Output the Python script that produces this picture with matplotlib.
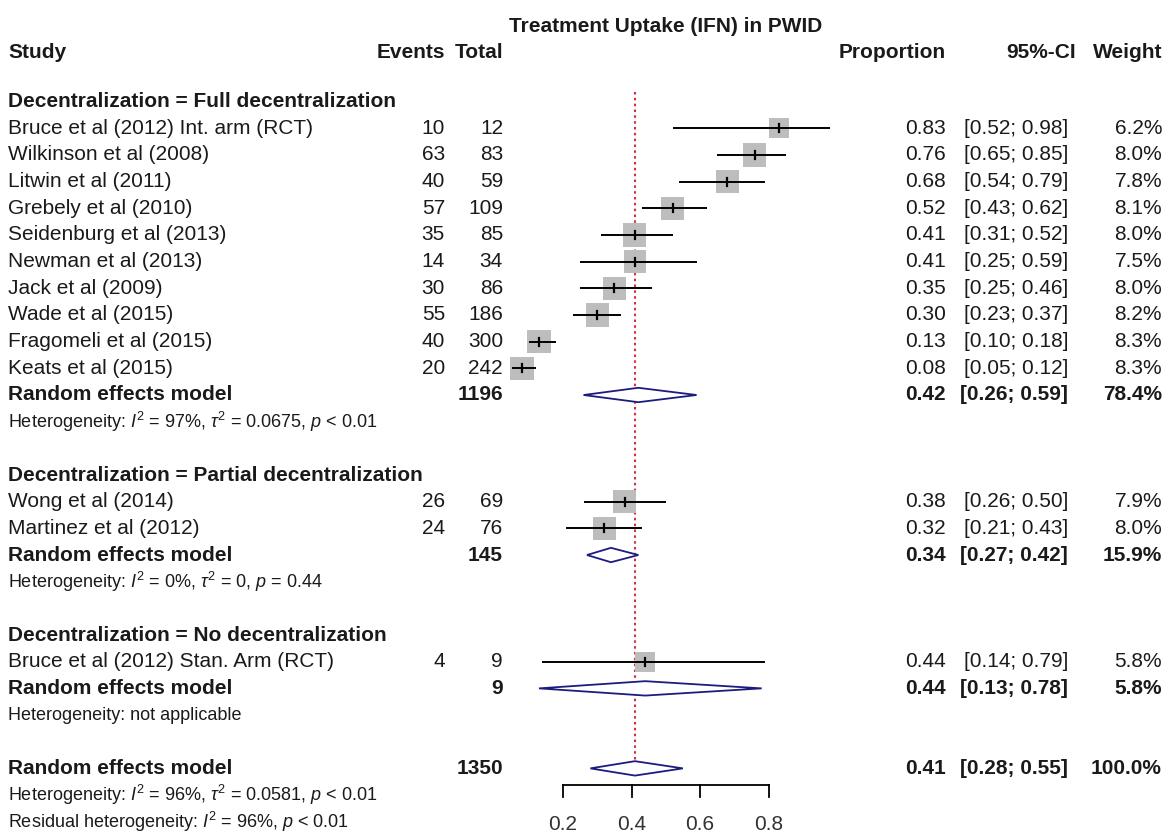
import matplotlib
matplotlib.use("Agg")
import matplotlib.pyplot as plt
import matplotlib.transforms as mtransforms
from matplotlib.patches import Rectangle, Polygon

plt.rcParams["font.family"] = ["Liberation Sans", "DejaVu Sans"]
plt.rcParams["mathtext.fontset"] = "custom"
plt.rcParams["mathtext.rm"] = "Liberation Sans"
plt.rcParams["mathtext.it"] = "Liberation Sans:italic"
plt.rcParams["mathtext.bf"] = "Liberation Sans:bold"

# full decentralization
full_study = ["Bruce et al (2012) Int. arm (RCT)", "Wilkinson et al (2008)", "Litwin et al (2011)",
              "Grebely et al (2010)", "Seidenburg et al (2013)", "Newman et al (2013)",
              "Jack et al (2009)", "Wade et al (2015)", "Fragomeli et al (2015)", "Keats et al (2015)"]
full_events = [10, 63, 40, 57, 35, 14, 30, 55, 40, 20]
full_total = [12, 83, 59, 109, 85, 34, 86, 186, 300, 242]
full_prop = [0.83, 0.76, 0.68, 0.52, 0.41, 0.41, 0.35, 0.30, 0.13, 0.08]
full_lo = [0.52, 0.65, 0.54, 0.43, 0.31, 0.25, 0.25, 0.23, 0.10, 0.05]
full_hi = [0.98, 0.85, 0.79, 0.62, 0.52, 0.59, 0.46, 0.37, 0.18, 0.12]
full_weight = [6.2, 8.0, 7.8, 8.1, 8.0, 7.5, 8.0, 8.2, 8.3, 8.3]
full_pooled = (1196, 0.42, 0.26, 0.59, 78.4)
full_het = r"Heterogeneity: $I^2$ = 97%, $\tau^2$ = 0.0675, $p$ < 0.01"

# partial decentralization
part_study = ["Wong et al (2014)", "Martinez et al (2012)"]
part_events = [26, 24]
part_total = [69, 76]
part_prop = [0.38, 0.32]
part_lo = [0.26, 0.21]
part_hi = [0.50, 0.43]
part_weight = [7.9, 8.0]
part_pooled = (145, 0.34, 0.27, 0.42, 15.9)
part_het = r"Heterogeneity: $I^2$ = 0%, $\tau^2$ = 0, $p$ = 0.44"

# no decentralization
none_study = ["Bruce et al (2012) Stan. Arm (RCT)"]
none_events = [4]
none_total = [9]
none_prop = [0.44]
none_lo = [0.14]
none_hi = [0.79]
none_weight = [5.8]
none_pooled = (9, 0.44, 0.13, 0.78, 5.8)
none_het = "Heterogeneity: not applicable"

overall_pooled = (1350, 0.41, 0.28, 0.55, 100.0)
overall_het = [r"Heterogeneity: $I^2$ = 96%, $\tau^2$ = 0.0581, $p$ < 0.01",
               r"Residual heterogeneity: $I^2$ = 96%, $p$ < 0.01"]

groups = [
    ("Decentralization = Full decentralization", full_study, full_events, full_total,
     full_prop, full_lo, full_hi, full_weight, full_pooled, full_het),
    ("Decentralization = Partial decentralization", part_study, part_events, part_total,
     part_prop, part_lo, part_hi, part_weight, part_pooled, part_het),
    ("Decentralization = No decentralization", none_study, none_events, none_total,
     none_prop, none_lo, none_hi, none_weight, none_pooled, none_het),
]
ticks = [0.2, 0.4, 0.6, 0.8]

W, H = 1165, 839
fig = plt.figure(figsize=(W / 100, H / 100), dpi=100)
ax = fig.add_axes([0, 0, 1, 1])
ax.axis("off")

# pixel -> data scale: 0.2 at x=563, 342.5 px per unit; row 0 at y=128.3, 26.67 px per row
x0, xs = 563.0, 342.5
y0, ys = 128.3, 26.67
ax.set_xlim(0.2 - x0 / xs, 0.2 + (W - x0) / xs)
ax.set_ylim((H - y0) / ys, -y0 / ys)

tr = mtransforms.blended_transform_factory(ax.transAxes, ax.transData)
txt_col = "#1a1a1a"
fs = 15
fs_het = 13

col_study = 8 / W
col_events = 445 / W
col_total = 503 / W
col_prop = 946 / W
col_ci = 1068 / W
col_ci_head = 1076 / W
col_w = 1162 / W


def put(x, r, s, ha="left", bold=False, size=fs):
    ax.text(x, r, s, transform=tr, ha=ha, va="center", fontsize=size,
            fontweight="bold" if bold else "normal", color=txt_col)


def diamond(r, est, lo, hi):
    h = 0.27
    ax.add_patch(Polygon([(lo, r), (est, r - h), (hi, r), (est, r + h)], closed=True,
                         facecolor="white", edgecolor="#1c1c80", lw=1.3, zorder=3))


def stat_cols(r, est, lo, hi, w, bold=False):
    put(col_prop, r, f"{est:.2f}", ha="right", bold=bold)
    put(col_ci, r, f"[{lo:.2f}; {hi:.2f}]", ha="right", bold=bold)
    put(col_w, r, f"{w:.1f}%", ha="right", bold=bold)


# headers
ax.text(0.5, -3.8, "Treatment Uptake (IFN) in PWID", ha="center", va="center",
        fontsize=fs, fontweight="bold", color=txt_col)
put(col_study, -2.85, "Study", bold=True)
put(col_events, -2.85, "Events", ha="right", bold=True)
put(col_total, -2.85, "Total", ha="right", bold=True)
put(col_prop, -2.85, "Proportion", ha="right", bold=True)
put(col_ci_head, -2.85, "95%-CI", ha="right", bold=True)
put(col_w, -2.85, "Weight", ha="right", bold=True)

r = -1
for (title, study, ev, tot, prop, lo, hi, wt, pooled, het) in groups:
    put(col_study, r, title, bold=True)
    r += 1
    for i in range(len(study)):
        put(col_study, r, study[i])
        put(col_events, r, str(ev[i]), ha="right")
        put(col_total, r, str(tot[i]), ha="right")
        stat_cols(r, prop[i], lo[i], hi[i], wt[i])
        side = 23.5 * (wt[i] / 8.3) ** 0.5
        ax.add_patch(Rectangle((prop[i] - side / 2 / xs, r - side / 2 / ys), side / xs, side / ys,
                               facecolor="#bdbdbd", edgecolor="none", zorder=2))
        ax.plot([lo[i], hi[i]], [r, r], color="black", lw=1.4, zorder=4, solid_capstyle="butt")
        ax.plot([prop[i], prop[i]], [r - 0.15, r + 0.15], color="black", lw=1.6, zorder=4)
        r += 1
    n, est, plo, phi, pw = pooled
    put(col_study, r, "Random effects model", bold=True)
    put(col_total, r, str(n), ha="right", bold=True)
    stat_cols(r, est, plo, phi, pw, bold=True)
    diamond(r, est, plo, phi)
    r += 1
    put(col_study, r, het, size=fs_het)
    r += 2

n, est, plo, phi, pw = overall_pooled
put(col_study, r, "Random effects model", bold=True)
put(col_total, r, str(n), ha="right", bold=True)
stat_cols(r, est, plo, phi, pw, bold=True)
diamond(r, est, plo, phi)
for k, line in enumerate(overall_het):
    put(col_study, r + 1 + k, line, size=fs_het)

# pooled reference line
ax.plot([est, est], [-1.35, r - 0.27], color="#d03040", lw=1.5, ls=(0, (1.2, 1.6)), zorder=1)

# x axis
ya = r + 0.62
ax.plot([ticks[0], ticks[-1]], [ya, ya], color="black", lw=1.3)
for t in ticks:
    ax.plot([t, t], [ya, ya + 0.45], color="black", lw=1.3)
    ax.text(t, ya + 1.5, f"{t:.1f}", ha="center", va="center", fontsize=fs, color="#333333")

fig.savefig("out.png", dpi=100, facecolor="white")
